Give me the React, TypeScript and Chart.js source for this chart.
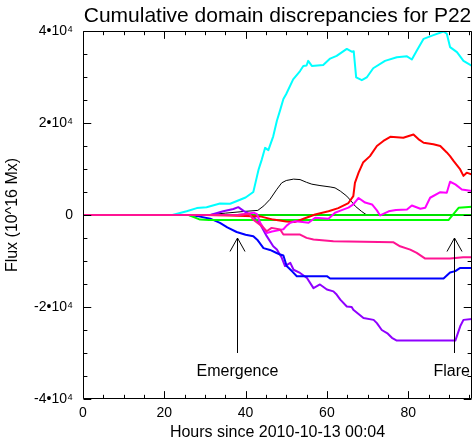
import React, { useEffect, useRef } from "react";
import { Chart, registerables } from "chart.js";

Chart.register(...registerables);

// ---------------- data ----------------
const titleText = "Cumulative domain discrepancies for P22";
const xTitle = "Hours since 2010-10-13 00:04";
const yTitle = "Flux (10^16 Mx)";

const xMin = 0;
const xMax = 95.7;
const xMajorStep = 20;
const xMinorStep = 5;

const yTickValues = [-40000, -20000, 0, 20000, 40000];
const yTickLabels = ["-4•10⁴", "-2•10⁴", "0", "2•10⁴", "4•10⁴"];
const yMinorStep = 5000;

// [hours, flux]
const cyanSeries: [number, number][] = [
  [0, 0], [22, 0], [25.5, 800], [28, 1500], [30.4, 1700], [33.7, 2500], [36.2, 2450],
  [40, 3800], [41.9, 5000], [42.8, 8400], [43.2, 9900], [44, 12100], [44.8, 14600],
  [45.6, 14100], [46.8, 17100], [47.7, 20500], [48.5, 22800], [49.3, 25200], [50, 26300],
  [51.7, 29500], [53.4, 31300], [54.2, 32400], [55, 32500], [55.4, 33500], [56.3, 32400],
  [59.1, 32600], [60.8, 34000], [62.4, 34600], [64.9, 36100], [66.1, 35500], [66.6, 35600],
  [67.2, 29900], [68.6, 29300], [69.8, 29900], [71.4, 31900], [74.3, 33500], [77.2, 34300],
  [79.7, 34500], [80.9, 33800], [82.1, 35700], [83.8, 38300], [86.2, 39100], [88.7, 39900],
  [89.5, 39400], [90.3, 36500], [92, 35400], [93.6, 33500], [95.7, 32400],
];

const redSeries: [number, number][] = [
  [0, 0], [30, 0], [36, -100], [40, -200], [43.6, -300], [46.8, -1000], [50, -1400],
  [52.2, -1500], [54.6, -700], [57.1, 100], [60.4, 800], [62.8, 1500], [65.3, 2600],
  [66.5, 4100], [66.9, 7000], [67.8, 9200], [68.9, 11400], [70.6, 12800], [72.3, 15000],
  [73.9, 16100], [75.6, 17000], [78.8, 16800], [81.3, 17500], [82.5, 16500], [83.8, 15700],
  [86.2, 15400], [87.9, 15000], [88.7, 14300], [89.5, 13600], [90.3, 12800], [91.2, 11700],
  [92.8, 9900], [93.6, 8500], [94.4, 9200], [95.7, 8800],
];

const blackSeries: [number, number][] = [
  [0, 0], [30, 0], [35, 400], [40, 800], [43, 1000], [44.5, 2000], [46, 3400], [47.7, 5600],
  [48.9, 7000], [50, 7500], [51.8, 7800], [53.4, 7700], [55, 7100], [56.3, 6700], [58.3, 6400],
  [60.8, 6100], [62, 5900], [63.3, 5200], [64.9, 4100], [66, 3000], [67, 1900], [68.5, 800],
  [69.8, 0], [95.7, 0],
];

const magentaSeries: [number, number][] = [
  [0, 0], [38, 0], [42, 500], [42.8, 200], [43.6, -1700], [45.2, -3900], [46.5, -3600],
  [47.7, -3400], [49.3, -3100], [50.1, -2300], [51, -1700], [52.2, -1350], [54, -1500],
  [55.5, -1700], [57.1, -600], [60.4, -800], [62, 500], [63.5, 1000], [65.3, 1600],
  [66.5, 2300], [67.8, 3700], [69.4, 2700], [71.1, 2300], [72.3, 1000], [73.1, -100],
  [75.2, 800], [77, 1100], [79.7, 1200], [80.9, 2070], [83, 1350], [84.2, 1570],
  [85.4, 3750], [87.9, 4970], [89.5, 4840], [90.3, 7230], [91.6, 6650], [93.2, 5560],
  [95.7, 5190],
];

const deepPinkSeries: [number, number][] = [
  [0, 0], [38, 0], [41, 200], [41.9, -1000], [44, -2440], [45.2, -3530], [46.4, -2800],
  [48.5, -3160], [49.3, -4250], [53.4, -4250], [55, -4970], [56.7, -5340], [61.6, -5710],
  [76.4, -5930], [78, -6800], [80.5, -7520], [82.1, -8240], [84.2, -9480], [90.3, -9480],
  [93.5, -9200], [95.7, -9200],
];

const blueSeries: [number, number][] = [
  [0, 0], [26, 0], [28.5, -300], [31.3, -800], [33.7, -1700], [35.5, -2700], [37.8, -3700],
  [40, -4300], [41.9, -4600], [43, -5500], [44.4, -7200], [46, -7600], [47.5, -8200],
  [48.5, -8600], [49.3, -8800], [50.1, -11100], [51.5, -12300], [52.6, -13300], [60, -13300],
  [60.8, -13800], [88.7, -13800], [90.3, -12500], [91.6, -12200], [92.8, -11500], [95.7, -11500],
];

const purpleSeries: [number, number][] = [
  [0, 0], [31.3, 0], [34.5, 800], [37, 1300], [38.2, 1700], [39.5, 900], [41.9, -300],
  [43.6, -2000], [45.2, -4600], [46.8, -6800], [47.7, -7500], [48.9, -9300], [49.7, -11100],
  [51, -10400], [51.8, -11900], [53.4, -12600], [55.1, -13700], [56.7, -15900], [58.3, -15100],
  [60, -16200], [61.6, -16600], [62.4, -17300], [63.3, -18400], [64.9, -19900], [66.1, -20000],
  [66.5, -20600], [69, -22400], [71.5, -22800], [72.3, -23500], [73.5, -25000], [75, -25800],
  [76, -26700], [77.2, -27300], [91.6, -27300], [92.8, -24200], [93.6, -22800], [95.7, -22600],
];

const greenZeroSeries: [number, number][] = [[0, 0], [95.7, 0]];

const greenSeries: [number, number][] = [
  [0, 0], [26, 0], [28.8, -1000], [31, -1100], [89.9, -1100], [92.4, 1570], [95.7, 1790],
];

// annotations
const annotationLabels = ["Emergence", "Flare"];
const annotationHours = [38, 91.2];
const annotationLabelHours = [38, 90.7];
const arrowTipFlux = -5000;
const arrowTailFlux = -30000;
const labelFlux = -34000;

// ---------------- chart ----------------
const FONT = "'Liberation Sans', Arial, Helvetica, sans-serif";

const framePlugin = {
  id: "idlFrame",
  afterDatasetsDraw(chart: any) {
    const { ctx, chartArea: a, scales } = chart;
    const xs = scales.x;
    const ys = scales.y;
    ctx.save();
    ctx.strokeStyle = "#000";
    ctx.lineWidth = 1;
    const L = a.left + 0.5;
    const R = a.right - 0.5;
    const T = a.top + 0.5;
    const B = a.bottom - 0.5;
    ctx.beginPath();
    ctx.rect(L, T, R - L, B - T);
    const xLen = (a.bottom - a.top) * 0.02;
    for (let v = xMin; v <= xMax; v += xMinorStep) {
      const p = Math.round(xs.getPixelForValue(v)) + 0.5;
      const len = v % xMajorStep === 0 ? xLen : xLen / 2;
      ctx.moveTo(p, B);
      ctx.lineTo(p, B - len);
      ctx.moveTo(p, T);
      ctx.lineTo(p, T + len);
    }
    const yLen = (a.right - a.left) * 0.02;
    const yLo = yTickValues[0];
    const yHi = yTickValues[yTickValues.length - 1];
    for (let v = yLo; v <= yHi; v += yMinorStep) {
      const p = Math.round(ys.getPixelForValue(v)) + 0.5;
      const len = yTickValues.includes(v) ? yLen : yLen / 2;
      ctx.moveTo(L, p);
      ctx.lineTo(L + len, p);
      ctx.moveTo(R, p);
      ctx.lineTo(R - len, p);
    }
    ctx.stroke();

    // arrows + labels
    ctx.fillStyle = "#000";
    ctx.font = `16px ${FONT}`;
    ctx.textAlign = "center";
    ctx.textBaseline = "middle";
    annotationHours.forEach((h, i) => {
      const px = Math.round(xs.getPixelForValue(h)) + 0.5;
      const tip = ys.getPixelForValue(arrowTipFlux);
      const tail = ys.getPixelForValue(arrowTailFlux);
      ctx.beginPath();
      ctx.moveTo(px, tail);
      ctx.lineTo(px, tip);
      ctx.moveTo(px - 7.5, tip + 13.5);
      ctx.lineTo(px, tip);
      ctx.lineTo(px + 7.5, tip + 13.5);
      ctx.stroke();
      ctx.fillText(
        annotationLabels[i],
        xs.getPixelForValue(annotationLabelHours[i]),
        ys.getPixelForValue(labelFlux)
      );
    });
    ctx.restore();
  },
};

function ds(label: string, data: [number, number][], color: string, width = 2) {
  return {
    label,
    data,
    borderColor: color,
    backgroundColor: color,
    borderWidth: width,
    pointRadius: 0,
    pointHoverRadius: 0,
    tension: 0,
    fill: false,
    borderJoinStyle: "round" as const,
  };
}

export default function App() {
  const ref = useRef<HTMLCanvasElement>(null);

  useEffect(() => {
    if (!ref.current) return;
    const chart = new Chart(ref.current, {
      type: "line",
      data: {
        datasets: [
          ds("deep pink", deepPinkSeries, "#ff1493"),
          ds("magenta", magentaSeries, "#ff00ff"),
          ds("red", redSeries, "#ff0000"),
          ds("green", greenSeries, "#00ff00"),
          ds("green zero", greenZeroSeries, "#00e000"),
          ds("blue", blueSeries, "#0000ff"),
          ds("purple", purpleSeries, "#8f00ff"),
          ds("cyan", cyanSeries, "#00ffff"),
          ds("black", blackSeries, "#000000", 1),
        ] as any,
      },
      options: {
        animation: false,
        responsive: false,
        devicePixelRatio: 1,
        events: [],
        layout: { padding: { left: 0, right: 1, top: 0, bottom: 0 } },
        plugins: {
          legend: { display: false },
          tooltip: { enabled: false },
          title: {
            display: true,
            text: titleText,
            fullSize: false,
            color: "#000",
            font: { family: FONT, size: 21, weight: "normal", lineHeight: 1 },
            padding: { top: 5.5, bottom: 4.5 },
          },
        },
        scales: {
          x: {
            type: "linear",
            min: xMin,
            max: xMax,
            grid: { display: false, drawTicks: false },
            border: { display: false },
            ticks: {
              stepSize: xMajorStep,
              includeBounds: false,
              autoSkip: false,
              maxRotation: 0,
              padding: 5.6,
              color: "#000",
              font: { family: FONT, size: 14 },
            },
            title: {
              display: true,
              text: xTitle,
              color: "#000",
              font: { family: FONT, size: 16, lineHeight: 1 },
              padding: { top: 0, bottom: 0 },
            },
            afterFit: (s: any) => {
              s.height = 42;
            },
          },
          y: {
            type: "linear",
            min: yTickValues[0],
            max: yTickValues[yTickValues.length - 1],
            grid: { display: false, drawTicks: false },
            border: { display: false },
            ticks: {
              stepSize: 20000,
              includeBounds: false,
              autoSkip: false,
              padding: 10,
              color: "#000",
              font: { family: FONT, size: 14 },
              callback: (value: any) => {
                const i = yTickValues.indexOf(Number(value));
                return i >= 0 ? yTickLabels[i] : "";
              },
            },
            title: {
              display: true,
              text: yTitle,
              color: "#000",
              font: { family: FONT, size: 16, lineHeight: 1 },
              padding: { top: 4.5, bottom: 0 },
            },
            afterFit: (s: any) => {
              s.width = 83;
            },
          },
        },
      } as any,
      plugins: [framePlugin],
    });
    return () => chart.destroy();
  }, []);

  return (
    <div style={{ position: "absolute", left: 0, top: 0, width: 473, height: 441, background: "#fff" }}>
      <canvas ref={ref} width={473} height={441} style={{ display: "block" }} />
    </div>
  );
}
